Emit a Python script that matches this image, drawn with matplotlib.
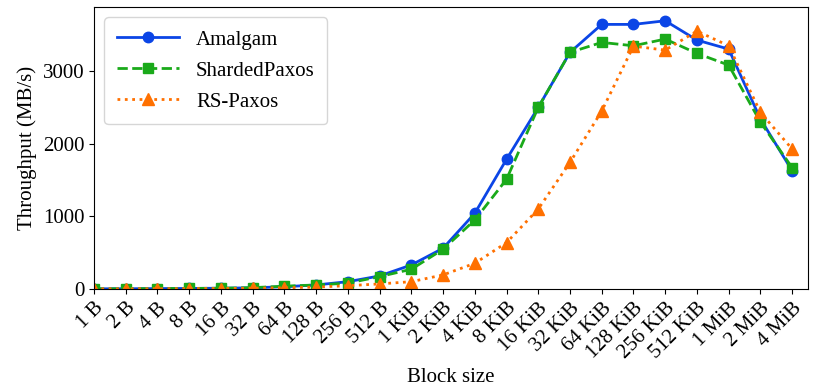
import numpy as np
import matplotlib.pyplot as plt

plt.rcParams['font.family'] = ['Liberation Serif', 'DejaVu Serif']
plt.rcParams['font.size'] = 15

block_sizes = ['1 B', '2 B', '4 B', '8 B', '16 B', '32 B', '64 B', '128 B', '256 B', '512 B',
               '1 KiB', '2 KiB', '4 KiB', '8 KiB', '16 KiB', '32 KiB', '64 KiB', '128 KiB',
               '256 KiB', '512 KiB', '1 MiB', '2 MiB', '4 MiB']

amalgam = [2, 3, 5, 7, 10, 16, 30, 55, 100, 179, 330, 560, 1041, 1784, 2499, 3256,
           3641, 3641, 3691, 3425, 3301, 2340, 1627]
sharded_paxos = [2, 3, 5, 7, 10, 18, 38, 55, 80, 170, 271, 546, 949, 1509, 2499, 3256,
                 3393, 3347, 3439, 3242, 3081, 2297, 1669]
rs_paxos = [1, 2, 3, 4, 6, 10, 16, 25, 45, 69, 100, 193, 353, 637, 1100, 1742,
            2448, 3342, 3287, 3549, 3347, 2430, 1926]

x = np.arange(len(block_sizes))

fig = plt.figure(figsize=(8.17, 3.91), dpi=100)
ax = fig.add_axes([0.115, 0.261, 0.874, 0.721])

ax.plot(x, amalgam, '-o', color='#0b45e6', lw=2, ms=7.5, label='Amalgam')
ax.plot(x, sharded_paxos, '--s', color='#1aaa1a', lw=2, ms=7, label='ShardedPaxos')
ax.plot(x, rs_paxos, ':^', color='#ff7000', lw=2, ms=8, label='RS-Paxos')

ax.set_xlim(0, len(block_sizes) - 0.5)
ax.set_ylim(0, 3880)
ax.set_xticks(x)
ax.set_xticklabels(block_sizes, rotation=45, ha='right', rotation_mode='anchor')
ax.set_yticks([0, 1000, 2000, 3000])
ax.set_xlabel('Block size')
ax.set_ylabel('Throughput (MB/s)')
ax.legend(loc='upper left', borderpad=0.6, handlelength=3, labelspacing=0.55)

fig.savefig('out.png', dpi=100)
